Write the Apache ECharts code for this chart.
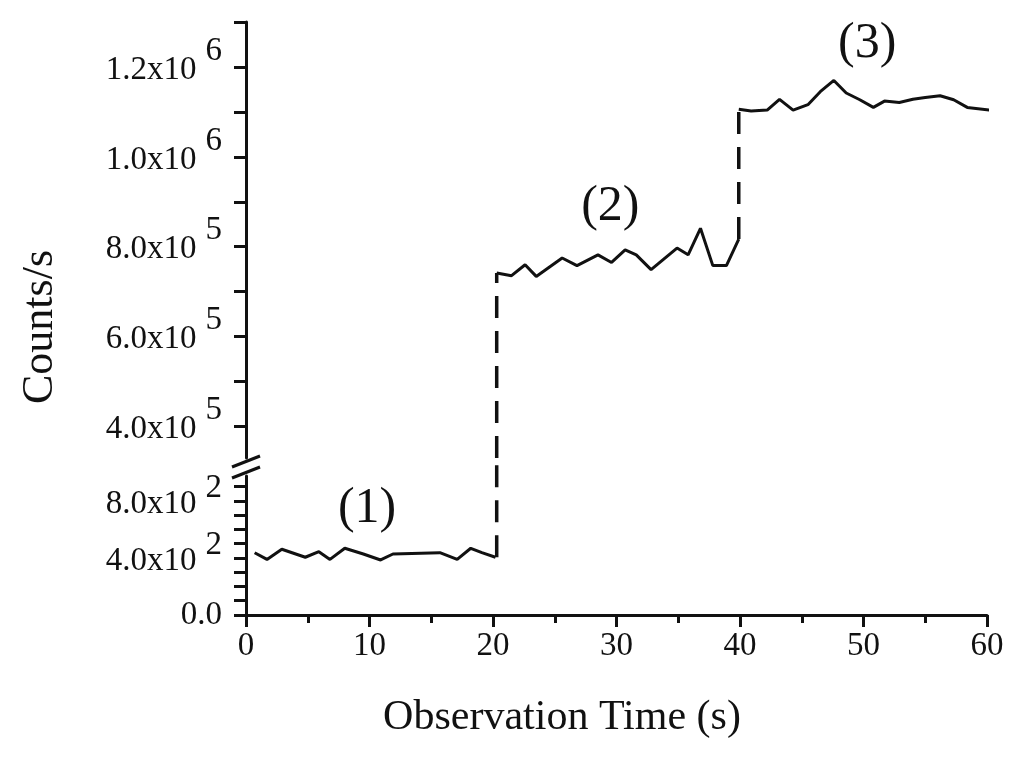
<!DOCTYPE html>
<html><head><meta charset="utf-8">
<script src="https://cdn.jsdelivr.net/npm/echarts@6/dist/echarts.min.js"></script>
<style>html,body{margin:0;padding:0;background:#fff}#c{width:1024px;height:762px}</style>
</head><body><div id="c"></div>
<script>
// ---- data ----
// segment (1): low counts, lower axis part
const seg1X = [0.7, 1.7, 2.9, 4.8, 5.9, 6.8, 8.0, 9.5, 10.9, 11.9, 15.7, 17.1, 18.2, 19.1, 20.2];
const seg1Y = [437, 390, 461, 405, 444, 390, 468, 428, 386, 428, 437, 390, 468, 437, 405];
// segment (2)
const seg2X = [20.3, 21.5, 22.6, 23.5, 25.6, 26.8, 28.5, 29.6, 30.7, 31.6, 32.8, 34.9, 35.8, 36.8, 37.8, 38.9, 39.9];
const seg2Y = [741500, 735600, 760000, 734000, 775000, 758000, 782000, 765000, 793000, 782000, 749000, 797000, 782000, 841000, 758000, 758000, 817000];
// segment (3)
const seg3X = [39.9, 40.9, 42.2, 43.2, 44.3, 45.5, 46.5, 47.6, 48.6, 49.7, 50.8, 51.7, 52.9, 54.0, 55.0, 56.2, 57.3, 58.4, 60.5];
const seg3Y = [1106000, 1102000, 1104000, 1128000, 1104000, 1116000, 1145000, 1170000, 1142000, 1127000, 1110000, 1124000, 1121000, 1128000, 1132000, 1136000, 1127000, 1110000, 1103000];
// step transitions (dashed)
const jumpX = [20.3, 39.9];

// annotations
const noteText = ['(1)', '(2)', '(3)'];
const noteX = [9.8, 29.5, 50.3];
const noteY = [743, 889000, 1251000];

// axis ticks / labels
const xTicks = [0, 10, 20, 30, 40, 50, 60];
const upperTickMarks = [400000, 500000, 600000, 700000, 800000, 900000, 1000000, 1100000, 1200000, 1300000];
const upperTicks = [400000, 600000, 800000, 1000000, 1200000];
const upperMant = ['4.0', '6.0', '8.0', '1.0', '1.2'];
const upperExp = ['5', '5', '5', '6', '6'];
const lowerTickMarks = [0, 100, 200, 300, 400, 500, 600, 700, 800, 900];
const lowerTicks = [0, 400, 800];
const lowerMant = ['0.0', '4.0', '8.0'];
const lowerExp = ['', '2', '2'];

// ---- chart ----
const FONT = 'Liberation Serif';
const INK = '#111';
const pairs = (xs, ys) => xs.map((x, i) => [x, ys[i]]);
const findIdx = (arr, v) => arr.findIndex(t => Math.abs(t - v) < 1e-6 * Math.max(1, Math.abs(t)));

const tickRich = {
  b: {fontFamily: FONT, fontSize: 33, color: INK, padding: [6, 0, 0, 0]},
  s: {fontFamily: FONT, fontSize: 33, color: INK, padding: [0, 0, 32, 9]},
  t: {fontFamily: FONT, fontSize: 33, color: INK, padding: [0, 0, 26, 9]},
  z: {fontFamily: FONT, fontSize: 33, color: INK}
};
function fmt(ticks, mant, exp, supStyle) {
  return v => {
    const i = findIdx(ticks, v);
    if (i < 0) return '';
    if (!exp[i]) return '{z|' + mant[i] + '}';
    return '{b|' + mant[i] + 'x10}{' + supStyle + '|' + exp[i] + '}';
  };
}
const axisLine = {show: true, onZero: false, lineStyle: {color: INK, width: 3}};
const tickStyle = {color: INK, width: 3};

const solid = {color: INK, width: 3};
const dashed = {color: INK, width: 3.5, type: [22, 13]};
const noteLabel = {show: true, position: 'inside', fontFamily: FONT, fontSize: 50, color: INK, opacity: 1};

const chart = echarts.init(document.getElementById('c'));
chart.setOption({
  backgroundColor: '#fff',
  animation: false,
  grid: [
    {left: 246, right: 37, top: 22, bottom: 304},
    {left: 246, right: 37, top: 476, bottom: 147}
  ],
  xAxis: [
    {gridIndex: 0, type: 'value', min: 0, max: 60, show: false},
    {gridIndex: 1, type: 'value', min: 0, max: 60, interval: 10,
     axisLine: axisLine,
     axisTick: {show: true, length: 12, lineStyle: tickStyle},
     minorTick: {show: true, splitNumber: 2, length: 8, lineStyle: tickStyle},
     splitLine: {show: false},
     axisLabel: {fontFamily: FONT, fontSize: 33, color: INK, margin: 15,
       formatter: v => (xTicks.indexOf(v) >= 0 ? String(v) : '')}}
  ],
  yAxis: [
    {gridIndex: 0, type: 'value', min: 330000, max: 1300000,
     axisLine: axisLine,
     axisTick: {show: true, length: 12, lineStyle: tickStyle, customValues: upperTickMarks},
     splitLine: {show: false},
     axisLabel: {margin: 24, rich: tickRich, customValues: upperTicks,
       formatter: fmt(upperTicks, upperMant, upperExp, 's')}},
    {gridIndex: 1, type: 'value', min: 0, max: 975,
     axisLine: axisLine,
     axisTick: {show: true, length: 12, lineStyle: tickStyle, customValues: lowerTickMarks},
     splitLine: {show: false},
     axisLabel: {margin: 24, rich: tickRich, customValues: lowerTicks,
       formatter: fmt(lowerTicks, lowerMant, lowerExp, 't')}}
  ],
  series: [
    {type: 'line', xAxisIndex: 1, yAxisIndex: 1, data: pairs(seg1X, seg1Y),
     showSymbol: false, lineStyle: solid},
    {type: 'line', xAxisIndex: 1, yAxisIndex: 1, clip: false,
     data: [[jumpX[0], seg1Y[seg1Y.length - 1]], [jumpX[0], 1100]],
     showSymbol: false, lineStyle: dashed},
    {type: 'line', xAxisIndex: 0, yAxisIndex: 0,
     data: [[jumpX[0], 330000], [jumpX[0], seg2Y[0]]],
     showSymbol: false, lineStyle: dashed},
    {type: 'line', xAxisIndex: 0, yAxisIndex: 0, data: pairs(seg2X, seg2Y),
     showSymbol: false, lineStyle: solid},
    {type: 'line', xAxisIndex: 0, yAxisIndex: 0,
     data: [[jumpX[1], seg2Y[seg2Y.length - 1]], [jumpX[1], seg3Y[0]]],
     showSymbol: false, lineStyle: dashed},
    {type: 'line', xAxisIndex: 0, yAxisIndex: 0, clip: false, data: pairs(seg3X, seg3Y),
     showSymbol: false, lineStyle: solid},
    {type: 'scatter', xAxisIndex: 1, yAxisIndex: 1, symbolSize: 0, silent: true,
     itemStyle: {opacity: 1},
     data: [[noteX[0], noteY[0]]],
     label: Object.assign({formatter: () => noteText[0]}, noteLabel)},
    {type: 'scatter', xAxisIndex: 0, yAxisIndex: 0, symbolSize: 0, silent: true, clip: false,
     itemStyle: {opacity: 1},
     data: [[noteX[1], noteY[1]], [noteX[2], noteY[2]]],
     label: Object.assign({formatter: p => noteText[p.dataIndex + 1]}, noteLabel)}
  ],
  graphic: [
    {type: 'line', shape: {x1: 232, y1: 467, x2: 260, y2: 456}, style: {stroke: INK, lineWidth: 3}},
    {type: 'line', shape: {x1: 232, y1: 478, x2: 260, y2: 467}, style: {stroke: INK, lineWidth: 3}},
    {type: 'text', x: 40, y: 327, rotation: Math.PI / 2,
     style: {text: 'Counts/s', font: '44px "Liberation Serif"', fill: INK, textAlign: 'center', textVerticalAlign: 'middle'}},
    {type: 'text', x: 562, y: 718,
     style: {text: 'Observation Time (s)', font: '42px "Liberation Serif"', fill: INK, textAlign: 'center', textVerticalAlign: 'middle'}}
  ]
});
</script>
</body></html>
